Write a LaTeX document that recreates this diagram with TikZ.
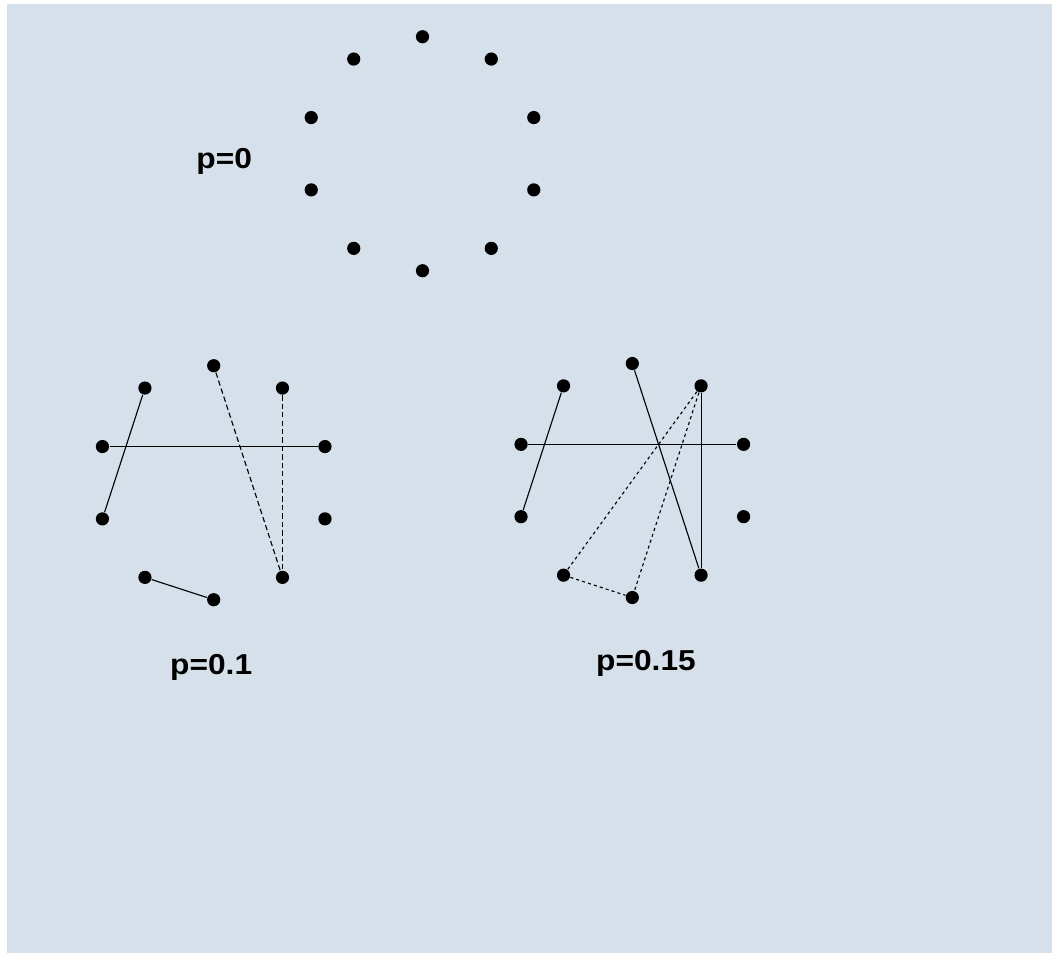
\documentclass[tikz,border=0pt]{standalone}
\usepackage{fontspec}
\usepackage{graphicx}
\setmainfont{Liberation Sans}
\usepackage{tikz}
\usetikzlibrary{backgrounds}
\definecolor{bgcolor}{RGB}{214,224,234}
\newcommand{\plabel}[1]{\scalebox{1.1}[1]{#1}}

\begin{document}
\begin{tikzpicture}[line width=0.8pt]
  \tikzstyle{vertex}=[circle,fill=black,inner sep=0pt,minimum size=3.3mm]
  \tikzstyle{edge}=[black,line width=0.8pt]
  \tikzstyle{rewired}=[edge,dash pattern=on 3.8pt off 2.2pt]
  \tikzstyle{rewired fine}=[edge,dash pattern=on 2.2pt off 2.2pt]
  \tikzstyle{plabel}=[anchor=base,font=\fontsize{20.5}{24}\selectfont\bfseries]

  \useasboundingbox (0,0) rectangle (26.3,-23.8);
  \fill[bgcolor] (0.175,-0.1) rectangle (26.5,-24);

  % ring lattice, no rewiring
  \begin{scope}[shift={(10.5625,-3.8425)}]
    \foreach \i in {0,...,9}
      \node [vertex] (a\i) at ({90-36*\i}:2.925) {};
  \end{scope}
  \node [plabel] (pa) at (5.605,-4.21) {\plabel{p=0}};

  % a few links rewired
  \begin{scope}[shift={(5.3425,-12.0675)}]
    \foreach \i in {0,...,9}
      \node [vertex] (b\i) at ({90-36*\i}:2.925) {};
    \draw [edge] (b9) -- (b7);
    \draw [edge] (b8) -- (b2);
    \draw [edge] (b6) -- (b5);
    \draw [rewired] (b0) -- (b4);
    \draw [rewired] (b1) -- (b4);
  \end{scope}
  \node [plabel] (pb) at (5.28,-16.86) {\plabel{p=0.1}};

  % more links rewired
  \begin{scope}[shift={(15.8075,-12.0125)}]
    \foreach \i in {0,...,9}
      \node [vertex] (c\i) at ({90-36*\i}:2.925) {};
    \draw [edge] (c9) -- (c7);
    \draw [edge] (c8) -- (c2);
    \draw [edge] (c0) -- (c4);
    \draw [edge] (c1) -- (c4);
    \draw [rewired fine] (c1) -- (c6);
    \draw [rewired fine] (c1) -- (c5);
    \draw [rewired fine] (c6) -- (c5);
  \end{scope}
  \node [plabel] (pc) at (16.15,-16.75) {\plabel{p=0.15}};
\end{tikzpicture}
\end{document}
